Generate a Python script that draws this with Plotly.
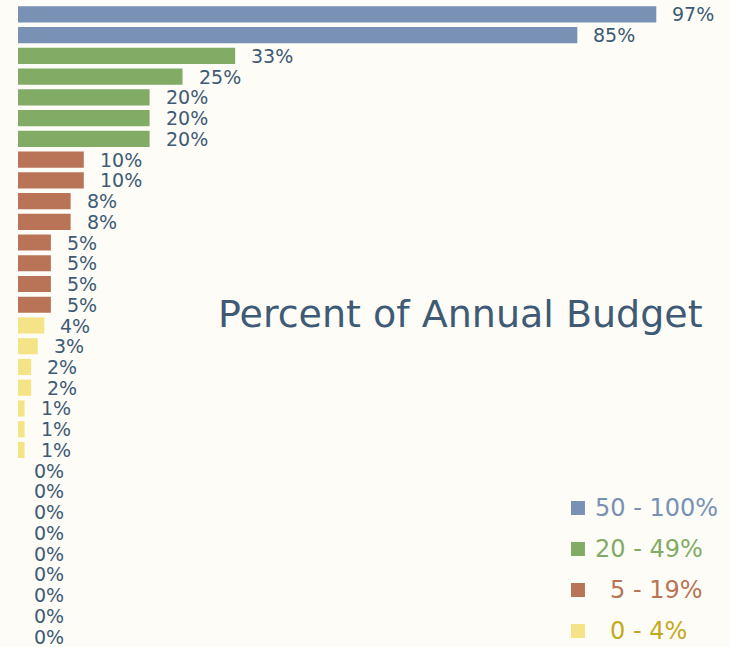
import plotly.graph_objects as go

# data
values = [97, 85, 33, 25, 20, 20, 20, 10, 10, 8, 8, 5, 5, 5, 5,
          4, 3, 2, 2, 1, 1, 1, 0, 0, 0, 0, 0, 0, 0, 0, 0]
labels = [f"{v}%" for v in values]
tier_names = ["50 - 100%", "20 - 49%", "5 - 19%", "0 - 4%"]
tier_colors = ["#7891b5", "#82ab66", "#b97458", "#f5e487"]
tier_text_colors = ["#7891b5", "#82ab66", "#b97458", "#c5a91c"]
text_color = "#3e5a75"
bg = "#fdfcf7"
FONT = "DejaVu Sans"


def tier(v):
    if v >= 50:
        return 0
    if v >= 20:
        return 1
    if v >= 5:
        return 2
    return 3


rows = list(range(len(values)))

fig = go.Figure()
fig.add_trace(go.Bar(
    x=values,
    y=rows,
    orientation="h",
    marker=dict(color=[tier_colors[tier(v)] for v in values], line_width=0),
    hoverinfo="skip",
    showlegend=False,
))

# value labels to the right of each bar
for v, lab, r in zip(values, labels, rows):
    fig.add_annotation(
        x=v, y=r, text=lab, showarrow=False,
        xanchor="left", yanchor="middle", xshift=14,
        font=dict(family=FONT, size=19, color=text_color),
    )

# title
fig.add_annotation(
    xref="paper", yref="paper", x=0.965, y=0.518,
    text="Percent of Annual Budget", showarrow=False,
    xanchor="right", yanchor="middle",
    font=dict(family=FONT, size=38, color=text_color),
)

# custom legend
leg_top = 0.2162
leg_step = 41 / 643
leg_text_x = [0.8076, 0.8076, 0.829, 0.829]
for i, (name, col, tcol) in enumerate(zip(tier_names, tier_colors, tier_text_colors)):
    yc = leg_top - i * leg_step
    fig.add_shape(
        type="rect", xref="paper", yref="paper",
        x0=0.7767, x1=0.7963, y0=yc - 0.0109, y1=yc + 0.0109,
        fillcolor=col, line_width=0,
    )
    fig.add_annotation(
        xref="paper", yref="paper", x=leg_text_x[i], y=yc,
        text=name, showarrow=False,
        xanchor="left", yanchor="middle",
        font=dict(family=FONT, size=24, color=tcol),
    )

fig.update_layout(
    width=730, height=647,
    margin=dict(l=18, r=0, t=4, b=0),
    paper_bgcolor=bg, plot_bgcolor=bg,
    bargap=0.22,
    xaxis=dict(range=[0, 108.2], visible=False, fixedrange=True),
    yaxis=dict(range=[30.5, -0.5], visible=False, fixedrange=True),
)

fig.write_html(
    "out.html",
    config={"displayModeBar": False},
    post_script="document.body.style.margin='0';document.body.style.background='" + bg + "';",
)
